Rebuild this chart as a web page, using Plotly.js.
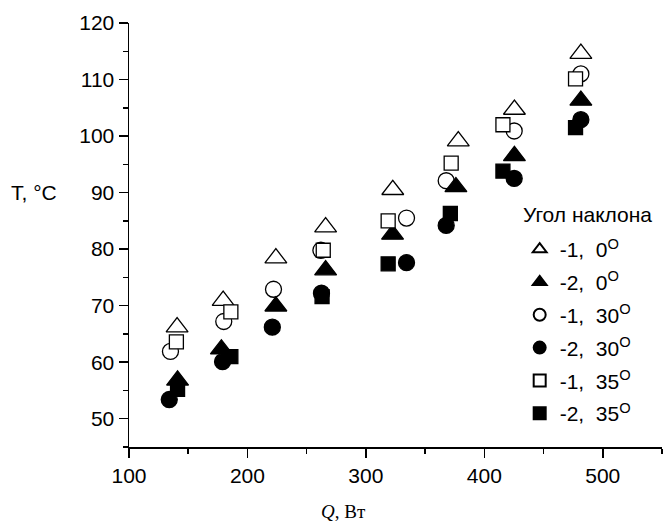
<!DOCTYPE html>
<html>
<head>
<meta charset="utf-8">
<script src="https://cdn.plot.ly/plotly-3.0.1.min.js"></script>
<style>html,body{margin:0;padding:0;background:#fff;}#chart{width:668px;height:521px;}</style>
</head>
<body>
<div id="chart"></div>
<script>
// Series: Q (W) and T (°C)
var legendLabels = ["-1,\u00a0\u00a00<sup>O</sup>", "-2,\u00a0\u00a00<sup>O</sup>", "-1,\u00a0\u00a030<sup>O</sup>", "-2,\u00a0\u00a030<sup>O</sup>", "-1,\u00a0\u00a035<sup>O</sup>", "-2,\u00a0\u00a035<sup>O</sup>"];

var Q_1_0  = [140.6, 179.5, 224, 266, 322.7, 378, 425.4, 481.5];
var T_1_0  = [66.2, 70.9, 78.4, 83.9, 90.5, 99.1, 104.7, 114.6];

var Q_2_0  = [141, 178, 224, 266, 322.5, 376, 425.4, 481.5];
var T_2_0  = [56.8, 62.3, 69.9, 76.3, 82.6, 91.0, 96.5, 106.3];

var Q_1_30 = [135, 180, 222, 262, 334.3, 367.8, 425.2, 481.5];
var T_1_30 = [61.9, 67.2, 72.9, 79.8, 85.5, 92.1, 100.9, 111.0];

var Q_2_30 = [134, 179, 221, 262.5, 334.3, 367.8, 425.2, 481.5];
var T_2_30 = [53.4, 60.1, 66.2, 72.2, 77.6, 84.2, 92.5, 102.9];

var Q_1_35 = [140, 186, 264, 318.8, 372, 415.7, 477];
var T_1_35 = [63.6, 68.9, 79.8, 85.0, 95.2, 102.0, 110.1];

var Q_2_35 = [141, 186, 263, 318.8, 371.3, 415.7, 477];
var T_2_35 = [55.2, 61.0, 71.6, 77.4, 86.3, 93.8, 101.5];

var legendTitle = "Угол наклона";
var yTitle = "T, °C";
var xTitle = "<i>Q</i>, Вт";

var FONT = "Liberation Sans, Arial, sans-serif";

function tr(x, y, name, symbol, size, filled, rank) {
  return {
    type: "scatter", mode: "markers", x: x, y: y, name: name,
    legendrank: rank, legendgroup: "g" + rank,
    marker: {symbol: symbol, size: size, color: filled ? "black" : "white",
             line: {color: "black", width: 1.3}},
    hoverinfo: "x+y"
  };
}

// drawing order: circles, triangles, squares; legend order via legendrank
var data = [
  tr(Q_1_30, T_1_30, legendLabels[2], "circle", 16, false, 3),
  tr(Q_2_30, T_2_30, legendLabels[3], "circle", 16, true, 4),
  tr(Q_1_0, T_1_0, legendLabels[0], "triangle-up", 19, false, 1),
  tr(Q_2_0, T_2_0, legendLabels[1], "triangle-up", 19, true, 2),
  tr(Q_1_35, T_1_35, legendLabels[4], "square", 14, false, 5),
  tr(Q_2_35, T_2_35, legendLabels[5], "square", 14, true, 6)
];

var axisCommon = {
  showline: true, linecolor: "black", linewidth: 1.5,
  showgrid: false, zeroline: false,
  ticks: "outside", ticklen: 9, tickwidth: 1.5, tickcolor: "black",
  tickfont: {family: FONT, size: 21, color: "black"},
  fixedrange: true
};

var layout = {
  width: 668, height: 521,
  margin: {l: 129, r: 6, t: 23, b: 74},
  paper_bgcolor: "white", plot_bgcolor: "white",
  font: {family: FONT, color: "black"},
  showlegend: true,
  xaxis: Object.assign({}, axisCommon, {
    range: [100, 550], tick0: 100, dtick: 100,
    minor: {dtick: 50, ticks: "outside", ticklen: 5, tickwidth: 1.5, tickcolor: "black"}
  }),
  yaxis: Object.assign({}, axisCommon, {
    range: [45, 120], tick0: 0, dtick: 10,
    minor: {dtick: 5, ticks: "outside", ticklen: 5, tickwidth: 1.5, tickcolor: "black"}
  }),
  legend: {
    x: 0.733, xanchor: "left", y: 0.514, yanchor: "top",
    bgcolor: "rgba(0,0,0,0)", borderwidth: 0,
    font: {family: FONT, size: 21, color: "black"},
    itemsizing: "constant", tracegroupgap: 2.5, traceorder: "grouped"
  },
  annotations: [
    {text: legendTitle, xref: "paper", yref: "paper", x: (521 - 129) / 533, y: (447 - 214) / 424,
     xanchor: "left", yanchor: "middle", showarrow: false,
     font: {family: FONT, size: 21, color: "black"}},
    {text: yTitle, xref: "paper", yref: "y", x: -0.225, y: 90, xanchor: "left", yanchor: "middle",
     showarrow: false, font: {family: FONT, size: 21, color: "black"}},
    {text: xTitle, xref: "paper", yref: "paper", x: 0.403, y: -0.153, xanchor: "center", yanchor: "middle",
     showarrow: false, font: {family: "Liberation Serif, Times New Roman, serif", size: 19, color: "black"}}
  ]
};

Plotly.newPlot("chart", data, layout, {displayModeBar: false, staticPlot: true});
</script>
</body>
</html>
